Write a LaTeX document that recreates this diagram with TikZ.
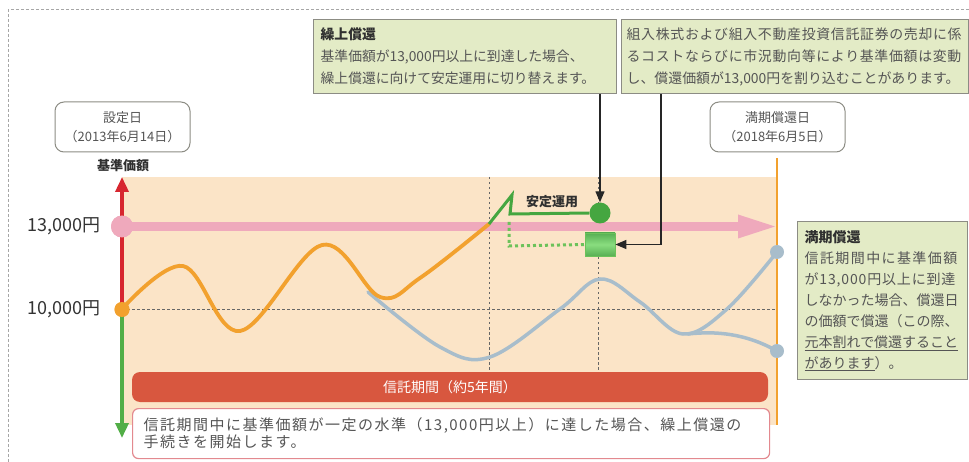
\documentclass[tikz,border=0pt]{standalone}
\usepackage{fontspec}
\setmainfont{Noto Sans CJK JP}
\newfontfamily\jpls{Noto Sans CJK JP}[LetterSpace=10]
\usetikzlibrary{arrows.meta}
\definecolor{peach}{HTML}{FBE4C7}
\definecolor{pinkc}{HTML}{EFA9BC}
\definecolor{redc}{HTML}{D7262F}
\definecolor{greenax}{HTML}{52AE47}
\definecolor{orangec}{HTML}{F2A12E}
\definecolor{grayc}{HTML}{A8BDCB}
\definecolor{greenc}{HTML}{45A640}
\definecolor{greenlt}{HTML}{6CC25A}
\definecolor{boxgreen}{HTML}{E3EBC6}
\definecolor{bordergray}{HTML}{8C8C84}
\definecolor{txt}{HTML}{555555}
\definecolor{titletxt}{HTML}{303030}
\definecolor{redbar}{HTML}{D8573F}
\definecolor{pinkborder}{HTML}{E3898F}
\begin{document}
\begin{tikzpicture}[x=1pt,y=-1pt,
  boxg/.style={draw=bordergray, fill=boxgreen, line width=1.3pt, anchor=north west, align=left, inner xsep=7pt, inner ysep=5pt, text=txt},
  datebox/.style={draw=bordergray, rounded corners=9pt, fill=white, line width=1pt, align=center, inner sep=2pt, font=\fontsize{13}{19}\selectfont, text=txt, minimum width=135pt, minimum height=50pt},
  grid/.style={draw=gray!80!black, line width=0.9pt, dash pattern=on 2.5pt off 2.5pt},
  dot/.style={circle, inner sep=0pt},
  arrowblk/.style={draw=black!85, line width=1.3pt, -{Triangle[length=11pt,width=9pt]}},
  ttl/.style={text=titletxt, font=\bfseries\fontsize{13}{16}\selectfont}
]
\useasboundingbox (0,0) rectangle (969,462);
% background
\fill[peach] (122,177) rectangle (777,425);
\draw[draw=gray!70, line width=1pt, dash pattern=on 3pt off 2pt] (8,462) -- (8,10) -- (969,10);
% grid lines
\draw[grid] (122,309) -- (777,309);
\draw[grid] (489,177) -- (489,372);
\draw[grid] (598,177) -- (598,372);
% maturity line
\draw[orangec, line width=2pt] (777,158) -- (777,425);
% pink 13000 line
\draw[pinkc, line width=9pt] (122,226.5) -- (740,226.5);
\fill[pinkc] (738,214.5) -- (775,226.5) -- (738,238.5) -- cycle;
% dots
\node[dot, fill=orangec, minimum size=15pt] (o10) at (122,309.5) {};
\node[dot, fill=pinkc, minimum size=22pt] (p13) at (122,226.5) {};
% axis
\draw[redc, line width=3.5pt, -{Triangle[length=15pt,width=13pt]}] (o10.center) -- (122,177);
\draw[greenax, line width=3.5pt, -{Triangle[length=15pt,width=13pt]}] (o10.center) -- (122,438);
\node[dot, fill=pinkc, minimum size=22pt] at (p13) {};
\node[dot, fill=orangec, minimum size=15pt] at (o10) {};
% gray curves
\node[dot, fill=grayc, minimum size=14pt] (g1) at (777,252) {};
\node[dot, fill=grayc, minimum size=14pt] (g2) at (777,351) {};
\draw[grayc, line width=3.5pt, line cap=round] plot[smooth, tension=0.6] coordinates {(368,292) (440,347) (490,357) (560,309) (600,279) (640,302) (683,334) (727,309) (777,252)};
\draw[grayc, line width=3.5pt, line cap=round] (688,334) .. controls (715,331) and (745,333) .. (g2.center);
% orange curve
\draw[orangec, line width=3.8pt, line cap=round] plot[smooth, tension=0.6] coordinates {(122,309) (183,266) (240,331) (322,245) (380,297) (420,278) (489,224)};
% green stable operation
\node[dot, fill=greenc, minimum size=21pt] (gcirc) at (600,213) {};
\draw[greenc, line width=3pt, line join=miter] (489,224) -- (512,195) -- (510,214) -- (gcirc.west);
\node[font=\bfseries\fontsize{13}{16}\selectfont, text=titletxt] (antei) at (552,202) {安定運用};
\node[draw=greenlt, line width=0.8pt, top color=greenc!90, bottom color=greenc!90, middle color=green!20!greenlt!70, minimum width=30pt, minimum height=23pt, inner sep=0pt] (grect) at (600,244.5) {};
\draw[greenlt, line width=3pt, dash pattern=on 3pt off 3pt] (509,222) -- (509,246) -- (grect.west);
% text boxes top
\node[boxg, text width=289pt, minimum height=74pt, font=\fontsize{13.8}{22}\selectfont] (kuri) at (313,19)
  {\textcolor{titletxt}{\bfseries 繰上償還}\\基準価額が13,000円以上に到達した場合、\\繰上償還に向けて安定運用に切り替えます。};
\node[boxg, inner xsep=5pt, text width=337pt, minimum height=74pt, font=\fontsize{13.9}{22}\selectfont] (note) at (621,19)
  {{\addfontfeature{LetterSpace=5}組入株式および組入不動産投資信託証券の売却に係}\\{\addfontfeature{LetterSpace=5}るコストならびに市況動向等により基準価額は変動}\\し、償還価額が13,000円を割り込むことがあります。};
% arrows
\draw[arrowblk] (kuri.south -| gcirc) -- (gcirc.north);
\coordinate (bend) at (661,244.5);
\draw[arrowblk] (note.south -| bend) -- (bend) -- (grect.east);
% date boxes
\node[datebox] (start) at (122.5,127) {設定日\\（2013年6月14日）};
\node[datebox] (end) at (777.5,127) {満期償還日\\（2018年6月5日）};
\node[font=\bfseries\fontsize{13}{16}\selectfont, text=titletxt] (axlab) at (123,166) {基準価額};
% value labels
\node[anchor=east, font=\fontsize{18}{20}\selectfont, text=black!80, inner sep=0pt] (l13) at (101,226) {13,000円};
\node[anchor=east, font=\fontsize{18}{20}\selectfont, text=black!80, inner sep=0pt] (l10) at (101,309) {10,000円};
% maturity redemption box
\node[boxg, text width=156pt, minimum height=158pt, font=\fontsize{14}{21}\selectfont] (manki) at (797,221)
  {\textcolor{titletxt}{\bfseries 満期償還}\\{\addfontfeature{LetterSpace=10}信託期間中に基準価額}\\{\addfontfeature{LetterSpace=6}が13,000円以上に到達}\\しなかった場合、償還日\\の価額で償還（この際、\\\underline{元本割れで償還すること}\\\underline{があります}）。};
% trust period bar
\node[fill=redbar, rounded corners=8pt, minimum width=636pt, minimum height=30pt, text=white, font=\fontsize{14}{16}\selectfont, inner sep=0pt] (bar) at (450,387) {信託期間（約5年間）};
\node[draw=pinkborder, fill=white, line width=1.2pt, rounded corners=6pt, anchor=north west, minimum width=637pt, minimum height=50pt, text width=615pt, align=left, inner xsep=11pt, inner ysep=3pt, text=txt, font=\jpls\fontsize{15}{17}\selectfont] (desc) at (132,408)
  {信託期間中に基準価額が一定の水準（13,000円以上）に達した場合、繰上償還の\\手続きを開始します。};
\end{tikzpicture}
\end{document}
